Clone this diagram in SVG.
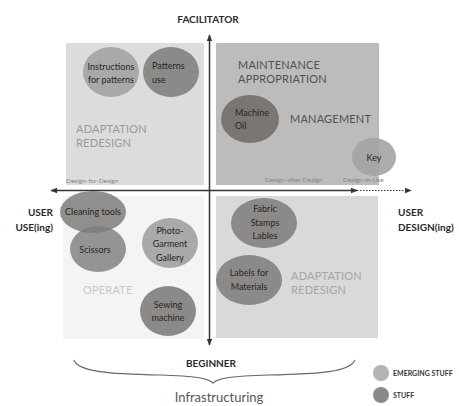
<svg xmlns="http://www.w3.org/2000/svg" width="459" height="406" viewBox="0 0 459 406">
<defs>
<style>
.ax{fill:#2e2926;font-family:Lato,"Noto Sans",sans-serif;font-weight:bold;font-size:10px}
.ql{font-family:Lato,"Noto Sans",sans-serif;font-size:11px;letter-spacing:0.2px}
.nl{fill:#2a2522;font-family:Lato,"Noto Sans",sans-serif;font-size:9px}
.sm{fill:#8a8582;font-family:Lato,"Noto Sans",sans-serif;font-size:6.5px}
.lg{fill:#3a3532;font-family:Lato,"Noto Sans",sans-serif;font-weight:bold;font-size:7px}
.em{fill:#a9a9a9}
.st{fill:#8c8a88}
</style>
<marker id="ah" viewBox="0 0 10 10" refX="9" refY="5" markerWidth="7" markerHeight="7" orient="auto-start-reverse" markerUnits="userSpaceOnUse">
<path d="M0,1 L10,5 L0,9 z" fill="#3a3330"/>
</marker>
</defs>
<rect width="459" height="406" fill="#ffffff"/>
<g id="quadrants">
<rect x="66" y="43" width="138" height="142" fill="#dcdcdc"/>
<rect x="216" y="43" width="163" height="142" fill="#bcbcbc"/>
<rect x="63" y="196" width="141" height="143" fill="#f4f4f4"/>
<rect x="216" y="196" width="162" height="142" fill="#d9d9d9"/>
</g>
<g id="quadrant-labels">
<text class="ql" x="76" y="133" fill="#9a9a9a">ADAPTATION</text>
<text class="ql" x="76" y="147" fill="#9a9a9a">REDESIGN</text>
<text class="ql" x="238" y="69" fill="#55504c">MAINTENANCE</text>
<text class="ql" x="238" y="83" fill="#55504c">APPROPRIATION</text>
<text class="ql" x="290" y="123" fill="#55504c">MANAGEMENT</text>
<text class="ql" x="83" y="294" fill="#c8c8c8">OPERATE</text>
<text class="ql" x="291" y="280" fill="#a6a6a6">ADAPTATION</text>
<text class="ql" x="291" y="294" fill="#a6a6a6">REDESIGN</text>
<text class="sm" x="66" y="183">Design-for-Design</text>
<text class="sm" x="265" y="182">Design-after-Design</text>
<text class="sm" x="343" y="182">Design-in-Use</text>
</g>
<g id="connectors" stroke="#3a3330" fill="none">
<line x1="209.5" y1="345" x2="209.5" y2="35" stroke-width="1.5" marker-end="url(#ah)" marker-start="url(#ah)"/>
<line x1="51" y1="190.5" x2="357" y2="190.5" stroke-width="1.5" marker-start="url(#ah)" marker-end="url(#ah)"/>
<line x1="357" y1="190.5" x2="411" y2="190.5" stroke-width="1.2" stroke-dasharray="1.5,1.5" marker-end="url(#ah)"/>
<path d="M74,360 C78,372 110,374 160,375 C195,376 208,378 213,383 C218,378 232,376 268,375 C320,374 350,372 355,360" stroke="#6a6664" stroke-width="1.2"/>
</g>
<g id="axis-labels">
<text class="ax" x="208" y="23" text-anchor="middle">FACILITATOR</text>
<text class="ax" x="211" y="367" text-anchor="middle">BEGINNER</text>
<text class="ax" x="53" y="216" text-anchor="end">USER</text>
<text class="ax" x="53" y="231" text-anchor="end">USE(ing)</text>
<text class="ax" x="398" y="216">USER</text>
<text class="ax" x="398" y="231">DESIGN(ing)</text>
<text x="219" y="402" text-anchor="middle" fill="#5a5552" font-family="Lato,'Noto Sans',sans-serif" font-size="13">Infrastructuring</text>
</g>
<g id="n-instructions">
<ellipse cx="111" cy="72" rx="28" ry="25" class="em"/>
<text class="nl" x="111" y="70" text-anchor="middle">Instructions</text>
<text class="nl" x="111" y="83" text-anchor="middle">for patterns</text>
</g>
<g id="n-patterns-use">
<ellipse cx="171" cy="72" rx="28" ry="25" class="st"/>
<text class="nl" x="152" y="69">Patterns</text>
<text class="nl" x="152" y="83">use</text>
</g>
<g id="n-machine-oil">
<ellipse cx="250" cy="119" rx="29" ry="24" fill="#7b7672"/>
<text class="nl" x="235" y="116">Machine</text>
<text class="nl" x="235" y="129">Oil</text>
</g>
<g id="n-key">
<ellipse cx="374" cy="157" rx="22" ry="19" fill="#a3a3a3" fill-opacity="0.9"/>
<text class="nl" x="374" y="161" text-anchor="middle">Key</text>
</g>
<g id="n-cleaning-tools">
<ellipse cx="93" cy="212" rx="33" ry="21" fill="#7e7c7a" fill-opacity="0.85"/>
<text class="nl" x="93" y="215" text-anchor="middle">Cleaning tools</text>
</g>
<g id="n-scissors">
<ellipse cx="98" cy="249" rx="28" ry="23" fill="#7e7c7a" fill-opacity="0.8"/>
<text class="nl" x="95" y="253" text-anchor="middle">Scissors</text>
</g>
<g id="n-photo-garment">
<ellipse cx="170" cy="243" rx="28" ry="25" class="em"/>
<text class="nl" x="170" y="234" text-anchor="middle">Photo-</text>
<text class="nl" x="170" y="247" text-anchor="middle">Garment</text>
<text class="nl" x="170" y="261" text-anchor="middle">Gallery</text>
</g>
<g id="n-sewing-machine">
<ellipse cx="168" cy="311" rx="28" ry="25" class="st"/>
<text class="nl" x="168" y="308" text-anchor="middle">Sewing</text>
<text class="nl" x="168" y="321" text-anchor="middle">machine</text>
</g>
<g id="n-fabric-stamps">
<ellipse cx="264" cy="223" rx="33" ry="25" class="st"/>
<text class="nl" x="265" y="212" text-anchor="middle">Fabric</text>
<text class="nl" x="265" y="226" text-anchor="middle">Stamps</text>
<text class="nl" x="265" y="239" text-anchor="middle">Lables</text>
</g>
<g id="n-labels-materials">
<ellipse cx="249" cy="280" rx="33" ry="25" class="st"/>
<text class="nl" x="249" y="276" text-anchor="middle">Labels for</text>
<text class="nl" x="249" y="290" text-anchor="middle">Materials</text>
</g>
<g id="legend">
<circle cx="381" cy="373" r="8" fill="#b3b3b3"/>
<text class="lg" x="393" y="375.5">EMERGING STUFF</text>
<circle cx="381" cy="395" r="8" class="st"/>
<text class="lg" x="393" y="397.5">STUFF</text>
</g>
</svg>
